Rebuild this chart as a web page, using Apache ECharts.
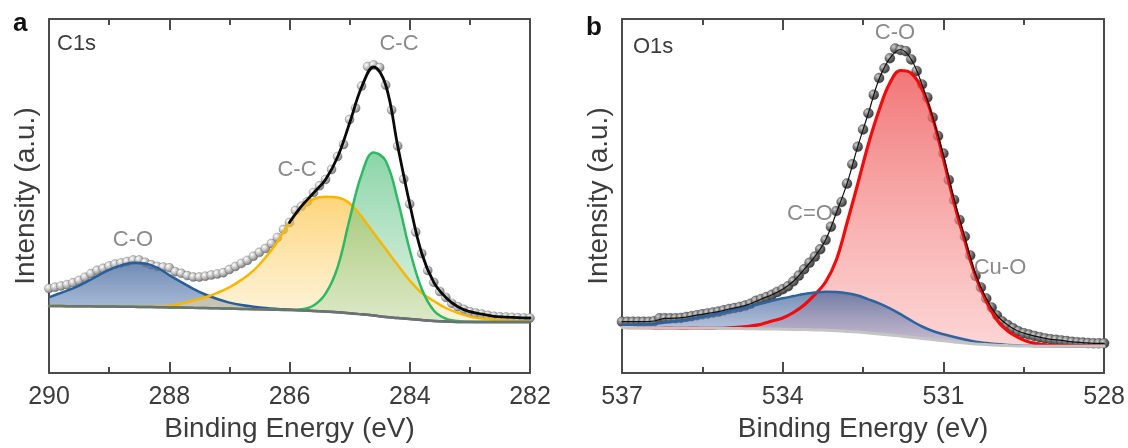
<!DOCTYPE html>
<html>
<head>
<meta charset="utf-8">
<script src="https://cdn.jsdelivr.net/npm/echarts@6.0.0/dist/echarts.min.js"></script>
<style>
html,body{margin:0;padding:0;background:#fff;}
#chart{width:1128px;height:448px;}
</style>
</head>
<body>
<div id="chart"></div>
<script>
// ---------- Panel a : C1s ----------
const eDotsA = [290.0,289.9,289.8,289.7,289.6,289.5,289.4,289.3,289.2,289.1,
289.0,288.9,288.8,288.7,288.6,288.5,288.4,288.3,288.2,288.1,
288.0,287.9,287.8,287.7,287.6,287.5,287.4,287.3,287.2,287.1,
287.0,286.9,286.8,286.7,286.6,286.5,286.4,286.3,286.2,286.1,
286.0,285.9,285.8,285.7,285.6,285.5,285.4,285.3,285.2,285.1,
285.0,284.9,284.8,284.7,284.6,284.5,284.4,284.3,284.2,284.1,
284.0,283.9,283.8,283.7,283.6,283.5,283.4,283.3,283.2,283.1,
283.0,282.9,282.8,282.7,282.6,282.5,282.4,282.3,282.2,282.1,282.0];
const dotsA = [84.5,85.8,87.0,88.3,90.2,92.6,95.7,99.4,102.7,104.7,
107.0,108.9,110.1,111.4,113.0,113.0,110.7,108.2,106.6,106.0,
105.2,101.3,99.7,97.4,96.0,96.0,96.8,98.0,99.0,100.3,
103.5,106.5,109.6,112.6,116.8,120.7,124.5,129.5,135.5,143.5,
150.5,162.5,166.8,171.5,180.5,187.2,193.5,203.5,216.5,228.5,
253.5,265.0,287.0,306.5,308.0,305.5,288.0,263.0,227.0,194.0,
169.0,141.0,119.5,102.5,90.7,81.5,75.6,69.6,66.2,63.7,
61.3,59.9,58.9,57.7,56.7,56.2,55.9,55.6,55.3,55.0,55.0];
const eFitA = [290.0,289.8,289.6,289.4,289.2,289.0,288.8,288.6,288.4,288.2,
288.0,287.8,287.6,287.4,287.2,287.0,286.8,286.6,286.4,286.2,
286.0,285.8,285.6,285.4,285.2,285.0,284.8,284.6,284.4,284.2,
284.0,283.8,283.6,283.4,283.2,283.0,282.8,282.6,282.4,282.2,282.0];
const bgA = [67,66.9,66.8,66.7,66.6,66.5,66.3,66.2,66,65.8,
65.6,65.4,65.2,65,64.7,64.4,64.1,63.8,63.5,63.2,
62.9,62.5,62,61.4,60.7,59.8,58.7,57.5,56,55,
54,53,52,51.4,51.1,51,51,51,51,51,51];
const coA = [8.7,13.3,17.8,23.6,30.3,36.7,41.3,44,43.5,39.5,
32.3,25.5,19,13.5,9.3,6,3.8,2.5,1.5,0.9,
0.5,0.2,0.1,0,0,0,0,0,0,0,
0,0,0,0,0,0,0,0,0,0,0];
const ccBroadA = [0,0,0,0,0,0,0,0,0.2,0.5,
1.5,4,7.3,10.7,15.5,21.3,29,38.5,52,68,
88,104,112,114.8,114.8,110,97.5,82.5,68,53,
38.5,27,20,13.6,9,5.5,3.5,2.3,1.5,0.8,0.5];
const ccSharpA = [0,0,0,0,0,0,0,0,0,0,
0,0,0,0,0,0,0,0,0,0,
0.2,1.2,5.5,18,45,94,140,163,156,118,
69,31,10.5,3,0.8,0.2,0,0,0,0,0];
// fitted envelope (visible part, 286.0 -> 282.0)
const eEnvA = [286.0,285.8,285.6,285.4,285.2,285.0,284.8,
284.6,284.4,284.2,284.0,283.8,283.6,283.4,283.2,283.0,282.8,282.6,282.4,282.2,282.0];
const envA = [150.5,166.8,180,193.5,216,250,286,
306,288,227,169,119.5,90.7,75.6,66.2,61.3,58.9,56.7,55.9,55.3,55];

// ---------- Panel b : O1s ----------
const eDotsB = [537.0,536.9,536.8,536.7,536.6,536.5,536.4,536.3,536.2,536.1,
536.0,535.9,535.8,535.7,535.6,535.5,535.4,535.3,535.2,535.1,
535.0,534.9,534.8,534.7,534.6,534.5,534.4,534.3,534.2,534.1,
534.0,533.9,533.8,533.7,533.6,533.5,533.4,533.3,533.2,533.1,
533.0,532.9,532.8,532.7,532.6,532.5,532.4,532.3,532.2,532.1,
532.0,531.9,531.8,531.7,531.6,531.5,531.4,531.3,531.2,531.1,
531.0,530.9,530.8,530.7,530.6,530.5,530.4,530.3,530.2,530.1,
530.0,529.9,529.8,529.7,529.6,529.5,529.4,529.3,529.2,529.1,
529.0,528.9,528.8,528.7,528.6,528.5,528.4,528.3,528.2,528.1,528.0];
const dotsB = [51.3,51.3,51.3,51.3,51.3,51.3,51.8,54.7,54.7,54.7,
54.7,55,56,56.8,57.8,58.7,59.6,60.5,61.4,62.7,
64,65,66.1,67.4,69.3,72.2,74,76,78.3,81.1,
83.8,86.7,91.7,97.4,103.7,110.2,116.4,123.7,133,146.3,
162,171,189.4,208.7,226.3,243.5,259.7,278.3,295,304.7,
314.7,324.5,323,321.8,313.5,302,288.5,275.5,255.5,237,
219.5,193,173,153,136.5,117.5,97,85.5,74.5,65.5,
57.5,51.5,48,44.7,41.8,39.8,38.4,37,35.8,34.6,
33.7,33.2,32.6,31.9,31.2,30.7,30.4,30,29.7,29.7,29.7];
const eFitB = [537.0,536.8,536.6,536.4,536.2,536.0,535.8,535.6,535.4,535.2,
535.0,534.8,534.6,534.4,534.2,534.0,533.8,533.6,533.4,533.2,
533.0,532.8,532.6,532.4,532.2,532.0,531.8,531.6,531.4,531.2,
531.0,530.8,530.6,530.4,530.2,530.0,529.8,529.6,529.4,529.2,
529.0,528.8,528.6,528.4,528.2,528.0];
const bgB = [45.5,45.4,45.3,45.2,45.1,45.0,44.9,44.8,44.7,44.6,
44.5,44.4,44.25,44.1,43.95,43.8,43.6,43.4,43.05,42.7,
42.2,41.6,40.9,40.0,39.0,38.0,36.9,35.8,34.6,33.4,
32.2,31.1,30.0,29.1,28.4,27.8,27.4,27.1,26.9,26.8,
26.7,26.7,26.7,26.7,26.7,26.7];
const cEqOB = [2.5,2.9,3.4,4.0,5.3,6.8,8.3,10.6,12.9,15.2,
17.7,20.2,22.65,25.4,28.25,30.9,33.3,35.6,37.35,38.6,
38.8,38.2,36.6,33.7,30.7,26.7,21.9,16.5,11.9,8.6,
6.6,4.9,3.5,2.2,1.5,1.1,0.7,0.4,0.25,0.1,
0,0,0,0,0,0];
const coB = [0,0,0,0,0,0,0,0,0,0.1,
0.7,1.6,2.75,4.7,8,11.2,16.9,24.6,35.4,48.3,
70.8,108.4,148.1,189,224,252,265.6,263.9,249.4,221.6,
181.8,138.9,102,67.9,43.6,25.2,14.6,8.3,4.1,2.2,
1.0,0.5,0.3,0.15,0.1,0.05];
const envB = [51.3,51.3,51.3,52,54.6,54.8,56,57.8,59.6,61.4,
64,66.1,69.3,74,78.3,83.8,91.7,103.7,116.4,133,
160,189.4,226.3,260,294,314.7,323.5,313.5,288.5,256,
218,174,136,99,74.5,57.5,48,41.8,38.4,35.8,
33.7,32.6,31.2,30.4,29.7,29.7];

// tick label sets
const ticksA = [282, 284, 286, 288, 290];
const ticksB = [528, 531, 534, 537];

const FONT = '"Liberation Sans", Arial, sans-serif';
const AX = '#4a4a4a';
// value first, energy second (so stacking acts on the intensity dimension)
const pairs = (xs, ys) => xs.map((x, i) => [ys[i], x]);
const ENC = {x: 1, y: 0};
const grad = (a, b) => ({type:'linear', x:0, y:0, x2:0, y2:1, colorStops:[{offset:0, color:a},{offset:1, color:b}]});

function xAxes(grid, min, max, interval, name) {
  const common = {
    type:'value', gridIndex:grid, min:min, max:max, interval:interval, inverse:true,
    axisLine:{show:true, onZero:false, lineStyle:{color:AX, width:2}},
    axisTick:{show:true, inside:true, length:11, lineStyle:{color:AX, width:2}},
    minorTick:{show:true, splitNumber:2, length:6, lineStyle:{color:AX, width:2}},
    splitLine:{show:false}, minorSplitLine:{show:false}
  };
  return [
    Object.assign({}, common, {
      position:'bottom',
      axisLabel:{show:true, fontSize:25, color:'#3c3c3c', fontFamily:FONT, margin:12},
      name:name, nameLocation:'middle', nameGap:42,
      nameTextStyle:{fontSize:28, color:'#3c3c3c', fontFamily:FONT}
    }),
    Object.assign({}, common, {position:'top', axisLabel:{show:false}})
  ];
}
function yAxes(grid) {
  return [
    {type:'value', gridIndex:grid, min:0, max:354, position:'left',
     axisLine:{show:true, onZero:false, lineStyle:{color:AX, width:2}},
     axisTick:{show:false}, axisLabel:{show:false}, splitLine:{show:false},
     name:'Intensity (a.u.)', nameLocation:'middle', nameGap:9,
     nameTextStyle:{fontSize:28, color:'#3c3c3c', fontFamily:FONT}},
    {type:'value', gridIndex:grid, min:0, max:354, position:'right',
     axisLine:{show:true, onZero:false, lineStyle:{color:AX, width:2}},
     axisTick:{show:false}, axisLabel:{show:false}, splitLine:{show:false}}
  ];
}
function base(stack, xi, yi, e, bg) {
  return {type:'line', xAxisIndex:xi, yAxisIndex:yi, data:pairs(e, bg), encode:ENC, stack:stack,
    smooth:0.4, symbol:'none', silent:true, lineStyle:{opacity:0, width:0}};
}
function comp(stack, xi, yi, e, vals, color, width, top, bottom) {
  return {type:'line', xAxisIndex:xi, yAxisIndex:yi, data:pairs(e, vals), encode:ENC, stack:stack,
    smooth:0.4, symbol:'none', silent:true, lineStyle:{color:color, width:width},
    areaStyle:{color:grad(top, bottom), opacity:1}};
}
function line(xi, yi, e, vals, color, width) {
  return {type:'line', xAxisIndex:xi, yAxisIndex:yi, data:pairs(e, vals), encode:ENC, smooth:0.4,
    symbol:'none', silent:true, lineStyle:{color:color, width:width, cap:'round'}};
}
function dots(xi, yi, e, vals, size, stops, border) {
  return {type:'scatter', xAxisIndex:xi, yAxisIndex:yi, data:pairs(e, vals), encode:ENC, symbolSize:size, silent:true,
    itemStyle:{color:{type:'radial', x:0.35, y:0.33, r:0.72,
      colorStops:stops.map((c, i) => ({offset:i/(stops.length-1), color:c}))},
      borderColor:border, borderWidth:0.6, opacity:1}};
}
function txt(x, y, text, font, fill, align) {
  return {type:'text', x:x, y:y, silent:true, z:100,
    style:{text:text, font:font, fill:fill, align:align || 'center', verticalAlign:'middle',
      textAlign:align || 'center', textVerticalAlign:'middle'}};
}

const chart = echarts.init(document.getElementById('chart'), null, {renderer:'canvas'});
chart.setOption({
  animation:false,
  backgroundColor:'#ffffff',
  grid:[
    {left:49, top:19, width:481, height:354},
    {left:622, top:19, width:483, height:354}
  ],
  xAxis:[].concat(xAxes(0, ticksA[0], ticksA[ticksA.length-1], 2, 'Binding Energy (eV)'),
                  xAxes(1, ticksB[0], ticksB[ticksB.length-1], 3, 'Binding Energy (eV)')),
  yAxis:[].concat(yAxes(0), yAxes(1)),
  series:[
    // panel a
    base('aCO', 0, 0, eFitA, bgA),
    comp('aCO', 0, 0, eFitA, coA, '#2a5e98', 2.5, 'rgba(70,106,158,0.78)', 'rgba(120,150,196,0.55)'),
    base('aCC1', 0, 0, eFitA, bgA),
    comp('aCC1', 0, 0, eFitA, ccBroadA, '#f8b600', 2.5, 'rgba(253,196,70,0.72)', 'rgba(253,222,150,0.35)'),
    base('aCC2', 0, 0, eFitA, bgA),
    comp('aCC2', 0, 0, eFitA, ccSharpA, '#2fb864', 2.5, 'rgba(60,185,110,0.6)', 'rgba(130,205,150,0.28)'),
    line(0, 0, eFitA, bgA, '#707070', 2.5),
    line(0, 0, eEnvA, envA, '#0a0a0a', 2.8),
    dots(0, 0, eDotsA, dotsA, 9, ['#ffffff', '#bdbdbd', '#6e6e6e'], 'rgba(90,90,90,0.55)'),
    // panel b
    base('bCO', 2, 2, eFitB, bgB),
    comp('bCO', 2, 2, eFitB, coB, '#f00c0c', 3.2, 'rgba(238,88,88,0.82)', 'rgba(250,170,170,0.5)'),
    base('bCEO', 2, 2, eFitB, bgB),
    comp('bCEO', 2, 2, eFitB, cEqOB, '#2d64a0', 2.5, 'rgba(60,95,150,0.72)', 'rgba(140,160,205,0.45)'),
    line(2, 2, eFitB, bgB, '#c4c4c4', 3),
    line(2, 2, eFitB, envB, '#111111', 1.2),
    dots(2, 2, eDotsB, dotsB, 10, ['#d0d0d0', '#6e6e6e', '#333333'], 'rgba(40,40,40,0.5)')
  ],
  graphic:[
    txt(13, 24, 'a', 'bold 26px ' + FONT, '#111', 'left'),
    txt(586, 28, 'b', 'bold 26px ' + FONT, '#111', 'left'),
    txt(57, 44, 'C1s', '22px ' + FONT, '#3c3c3c', 'left'),
    txt(633, 46.5, 'O1s', '22px ' + FONT, '#3c3c3c', 'left'),
    txt(133, 240, 'C-O', '22px ' + FONT, '#8a8a8a'),
    txt(297, 170, 'C-C', '22px ' + FONT, '#8a8a8a'),
    txt(399, 44, 'C-C', '22px ' + FONT, '#8a8a8a'),
    txt(895, 33, 'C-O', '22px ' + FONT, '#8a8a8a'),
    txt(810, 214, 'C=O', '22px ' + FONT, '#8a8a8a'),
    txt(1000, 268, 'Cu-O', '22px ' + FONT, '#8a8a8a')
  ]
});
</script>
</body>
</html>
